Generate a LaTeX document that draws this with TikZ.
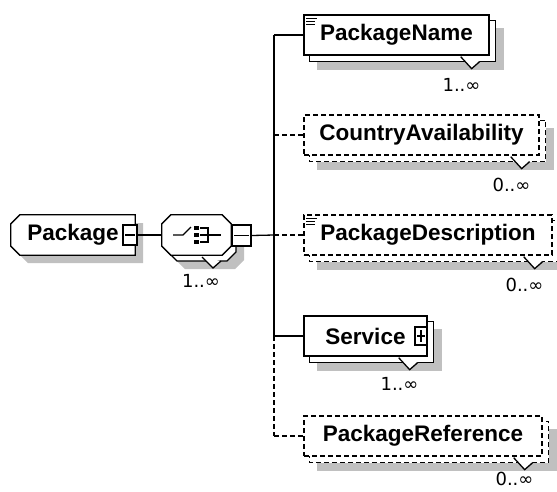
\documentclass[tikz,border=0pt]{standalone}
\usepackage{fontspec}
\setmainfont{Liberation Sans}
\newfontfamily\multfont{DejaVu Sans}
\usetikzlibrary{calc,backgrounds}
\definecolor{shadowc}{RGB}{192,192,192}
\tikzset{
  ln/.style={line width=1.3pt},
  opt/.style={dash pattern=on 5pt off 3pt},
  lbl/.style={font=\fontsize{22.5}{26}\selectfont\bfseries, inner sep=0pt, minimum height=40pt},
  elem/.style={lbl, rectangle, draw, ln, fill=white},
  mult/.style={font=\multfont\fontsize{18}{20}\selectfont, inner sep=0pt, anchor=east},
  btn/.style={rectangle, draw, ln, fill=white, inner sep=0pt},
  minus/.style={path picture={\draw[line width=1.3pt] ([xshift=2pt]path picture bounding box.west) -- ([xshift=-2pt]path picture bounding box.east);}},
  plus/.style={path picture={\draw[line width=1.3pt] ([xshift=2pt]path picture bounding box.west) -- ([xshift=-2pt]path picture bounding box.east);
     \draw[line width=1.3pt] ([yshift=3pt]path picture bounding box.south) -- ([yshift=-3pt]path picture bounding box.north);}},
}
% stacked back box and shadow of an element node
\newcommand\StackBox[2]{%
  \fill[shadowc] ($(#1.north west)+(14,14)$) rectangle ($(#1.south east)+(14,14)$);
  \draw[ln,#2,fill=white] ($(#1.north west)+(6,6)$) rectangle ($(#1.south east)+(6,6)$);
}
% multiplicity notch
\newcommand\Notch[1]{%
  \filldraw[ln,fill=white] ($(#1.south east)+(-29,1)$) -- ($(#1.south east)+(-18,13)$) -- ($(#1.south east)+(-10,6)$);
}
% documentation icon
\newcommand\DocIcon[1]{%
  \draw[line width=1.2pt] ($(#1.north west)+(3,4)$) -- ++(11,0);
  \draw[line width=1.2pt] ($(#1.north west)+(3,7)$) -- ++(9,0);
  \draw[line width=1.2pt] ($(#1.north west)+(3,10)$) -- ++(9,0);
}
\begin{document}
\begin{tikzpicture}[x=1pt,y=-1pt]
\useasboundingbox (0,0) rectangle (557,491);

% ---- root element and compositor
\node[lbl, minimum width=124pt] (pkg) at (73,235) {Package\hspace{16pt}};
\node[lbl, minimum width=69pt] (seq) at (196.5,235) {};
\node[btn, minus, minimum width=14pt, minimum height=20pt] (pkgbtn) at (130,235) {};
\node[btn, minus, minimum width=19pt, minimum height=21pt] (seqbtn) at (241.5,235.5) {};

% ---- children
\node[elem, minimum width=185pt] (pn) at (396.5,35) {PackageName};
\node[elem, opt, minimum width=235pt] (ca) at (421.5,135) {CountryAvailability};
\node[elem, opt, minimum width=248pt] (pd) at (428,235) {PackageDescription};
\node[elem, minimum width=123pt] (sv) at (365.5,336) {Service\hspace{7pt}};
\node[elem, opt, minimum width=238pt] (pr) at (423,436) {PackageReference};
\node[btn, plus, minimum width=12pt, minimum height=18pt] (svbtn) at (421,336) {};

\begin{pgfonlayer}{background}
  \fill[white] (0,0) rectangle (557,491);
  % Package shadow and shape
  \fill[shadowc] (28,223) -- (143,223) -- (143,263) -- (28,263) -- (19,254) -- (19,232) -- cycle;
  \draw[ln,fill=white] ($(pkg.north west)+(9,0)$) -- (pkg.north east) -- (pkg.south east)
     -- ($(pkg.south west)+(9,0)$) -- ($(pkg.south west)+(0,-9)$) -- ($(pkg.north west)+(0,9)$) -- cycle;
  % compositor shadow, back and front
  \fill[shadowc] (185,229) -- (235,229) -- (244,238) -- (244,260) -- (235,269) -- (185,269) -- (176,260) -- (176,238) -- cycle;
  \draw[ln,fill=white] (177,221) -- (227,221) -- (236,230) -- (236,252) -- (227,261) -- (177,261) -- (168,252) -- (168,230) -- cycle;
  \draw[ln,fill=white] ($(seq.north west)+(9,0)$) -- ($(seq.north east)+(-9,0)$) -- ($(seq.north east)+(0,9)$)
     -- ($(seq.south east)+(0,-9)$) -- ($(seq.south east)+(-9,0)$) -- ($(seq.south west)+(9,0)$)
     -- ($(seq.south west)+(0,-9)$) -- ($(seq.north west)+(0,9)$) -- cycle;
  % element stacks
  \StackBox{pn}{}
  \StackBox{ca}{opt}
  \StackBox{pd}{opt}
  \StackBox{sv}{}
  \StackBox{pr}{opt}
\end{pgfonlayer}

% sequence icon
\draw[ln] (173,235) -- (183,235) -- (191,227);
\fill (194,226) rectangle (199,230);
\fill (194,233) rectangle (199,237);
\fill (194,240) rectangle (199,244);
\draw[line width=1.2pt] (200,228) -- (208,228) -- (208,242) -- (200,242);
\draw[line width=1.2pt] (200,235) -- (221,235);

% notches and icons
\Notch{pn}\Notch{ca}\Notch{pd}\Notch{sv}\Notch{pr}
\filldraw[ln,fill=white] (202,257) -- (213,268) -- (221,261);
\DocIcon{pn}\DocIcon{pd}

% ---- connectors
\coordinate (t1) at (274,35);
\coordinate (t2) at (274,135);
\coordinate (t3) at (274,235);
\coordinate (t4) at (274,336);
\coordinate (t5) at (274,436);
\draw[ln] (pkgbtn.east) -- (seq.west);
\draw[ln] (seqbtn.east) -- (t3);
\draw[ln] (t1) -- (t4);
\draw[ln,opt] (t4) -- (t5);
\draw[ln] (t1) -- (pn.west);
\draw[ln,opt] (t2) -- (ca.west);
\draw[ln,opt] (t3) -- (pd.west);
\draw[ln] (t4) -- (sv.west);
\draw[ln,opt] (t5) -- (pr.west);

% ---- multiplicities
\node[mult] (m1) at ($(pn.south east)+(-9,29)$) {1..∞};
\node[mult] (m2) at ($(ca.south east)+(-9,29)$) {0..∞};
\node[mult] (m3) at ($(pd.south east)+(-9,29)$) {0..∞};
\node[mult] (m4) at ($(sv.south east)+(-9,27)$) {1..∞};
\node[mult] (m5) at ($(pr.south east)+(-9,22)$) {0..∞};
\node[mult, anchor=center] (m0) at (201,281) {1..∞};
\end{tikzpicture}
\end{document}
